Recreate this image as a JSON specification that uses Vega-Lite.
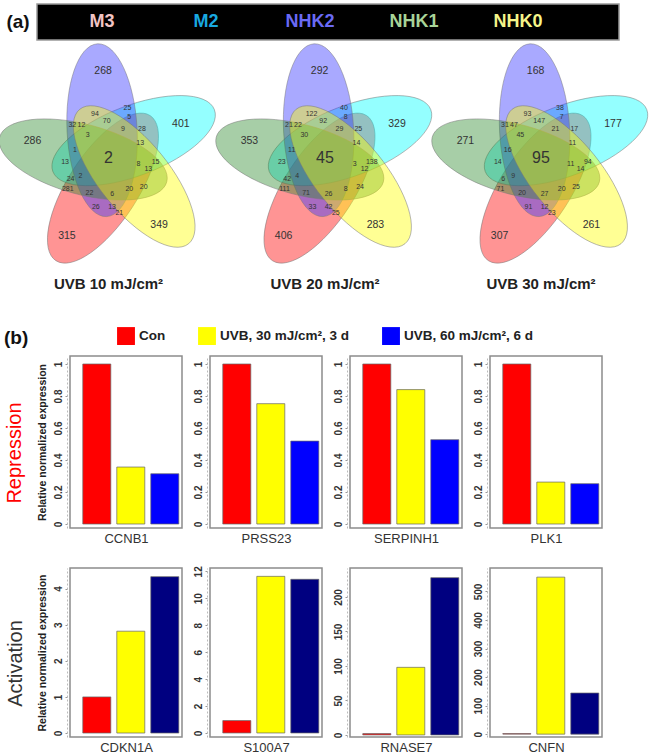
{
  "$schema": "https://vega.github.io/schema/vega-lite/v6.json",
  "padding": {"left": 0, "top": 3, "right": 0, "bottom": 0},
  "background": "white",
  "config": {
    "font": "Liberation Sans",
    "view": {"stroke": null},
    "axisX": {"labels": false, "ticks": false, "domain": false, "grid": false, "titleFontSize": 13, "titleFontWeight": "normal", "titleColor": "#333", "titlePadding": 4},
    "axisY": {"format": "~r", "labelAngle": -90, "labelFontSize": 10, "labelFontWeight": "bold", "labelColor": "#333", "labelPadding": 2, "tickSize": 2, "tickColor": "#999", "domainDash": [2, 2], "domainColor": "#bbb", "offset": 3, "grid": false, "titleFontSize": 10.5, "titleFontWeight": "bold", "titleColor": "#222", "titlePadding": 6}
  },
  "datasets": {
    "sets": [{"set": "M3"}, {"set": "M2"}, {"set": "NHK2"}, {"set": "NHK1"}, {"set": "NHK0"}],
    "ellipses": [
      {"set": "M3", "cx": -6.1, "cy": -29.6, "rot": 213},
      {"set": "M2", "cx": 27.8, "cy": 18.7, "rot": 69},
      {"set": "NHK2", "cx": -7.1, "cy": 29.3, "rot": 357},
      {"set": "NHK1", "cx": -28, "cy": -0.5, "rot": 285},
      {"set": "NHK0", "cx": 28.4, "cy": -17.8, "rot": 141}
    ],
    "regions": [
      {"region": 1, "lx": -6, "ly": 90, "type": "unique", "v10": 268, "v20": 292, "v30": 168},
      {"region": 2, "lx": 80, "ly": 36, "type": "unique", "v10": 401, "v20": 329, "v30": 177},
      {"region": 3, "lx": -84, "ly": 18, "type": "unique", "v10": 286, "v20": 353, "v30": 271},
      {"region": 4, "lx": -46, "ly": -78, "type": "unique", "v10": 315, "v20": 406, "v30": 307},
      {"region": 5, "lx": 56, "ly": -67, "type": "unique", "v10": 349, "v20": 283, "v30": 261},
      {"region": 6, "lx": 0, "ly": 1, "type": "all", "v10": 2, "v20": 45, "v30": 95},
      {"region": 7, "lx": -15, "ly": 46, "type": "shared", "v10": 94, "v20": 122, "v30": 93},
      {"region": 8, "lx": -2, "ly": 39, "type": "shared", "v10": 70, "v20": 92, "v30": 147},
      {"region": 9, "lx": 21, "ly": 52, "type": "shared", "v10": 25, "v20": 40, "v30": 38},
      {"region": 10, "lx": 23, "ly": 43, "type": "shared", "v10": 5, "v20": 8, "v30": 7},
      {"region": 11, "lx": 16, "ly": 31, "type": "shared", "v10": 9, "v20": 29, "v30": 21},
      {"region": 12, "lx": 37, "ly": 31, "type": "shared", "v10": 28, "v20": 25, "v30": 17},
      {"region": 13, "lx": -40, "ly": 35, "type": "shared", "v10": 32, "v20": 21, "v30": 31},
      {"region": 14, "lx": -30, "ly": 35, "type": "shared", "v10": 12, "v20": 22, "v30": 47},
      {"region": 15, "lx": -23, "ly": 24, "type": "shared", "v10": 3, "v20": 30, "v30": 45},
      {"region": 16, "lx": 35, "ly": 16, "type": "shared", "v10": 13, "v20": 14, "v30": 11},
      {"region": 17, "lx": -37, "ly": 9, "type": "shared", "v10": 1, "v20": 11, "v30": 16},
      {"region": 18, "lx": -48, "ly": -3, "type": "shared", "v10": 13, "v20": 23, "v30": 14},
      {"region": 19, "lx": 33, "ly": -5, "type": "shared", "v10": 8, "v20": 3, "v30": 11},
      {"region": 20, "lx": 52, "ly": -3, "type": "shared", "v10": 15, "v20": 138, "v30": 94},
      {"region": 21, "lx": 44, "ly": -10, "type": "shared", "v10": 13, "v20": 12, "v30": 14},
      {"region": 22, "lx": -42, "ly": -20, "type": "shared", "v10": 24, "v20": 42, "v30": 6},
      {"region": 23, "lx": -31, "ly": -17, "type": "shared", "v10": 2, "v20": 4, "v30": 9},
      {"region": 24, "lx": -45, "ly": -30, "type": "shared", "v10": 281, "v20": 111, "v30": 71},
      {"region": 25, "lx": 39, "ly": -28, "type": "shared", "v10": 20, "v20": 24, "v30": 25},
      {"region": 26, "lx": 23, "ly": -31, "type": "shared", "v10": 20, "v20": 8, "v30": 20},
      {"region": 27, "lx": -21, "ly": -35, "type": "shared", "v10": 22, "v20": 71, "v30": 20},
      {"region": 28, "lx": 4, "ly": -36, "type": "shared", "v10": 6, "v20": 26, "v30": 27},
      {"region": 29, "lx": -14, "ly": -49, "type": "shared", "v10": 26, "v20": 33, "v30": 91},
      {"region": 30, "lx": 4, "ly": -49, "type": "shared", "v10": 13, "v20": 42, "v30": 12},
      {"region": 31, "lx": 12, "ly": -55, "type": "shared", "v10": 21, "v20": 25, "v30": 23}
    ],
    "conds": [
      {"cond": "Con", "label": "Con"},
      {"cond": "UVB30", "label": "UVB, 30 mJ/cm², 3 d"},
      {"cond": "UVB60", "label": "UVB, 60 mJ/cm², 6 d"}
    ],
    "bars": [
      {"gene": "CCNB1", "cond": "Con", "value": 1}, {"gene": "CCNB1", "cond": "UVB30", "value": 0.356}, {"gene": "CCNB1", "cond": "UVB60", "value": 0.314},
      {"gene": "PRSS23", "cond": "Con", "value": 1}, {"gene": "PRSS23", "cond": "UVB30", "value": 0.752}, {"gene": "PRSS23", "cond": "UVB60", "value": 0.518},
      {"gene": "SERPINH1", "cond": "Con", "value": 1}, {"gene": "SERPINH1", "cond": "UVB30", "value": 0.84}, {"gene": "SERPINH1", "cond": "UVB60", "value": 0.527},
      {"gene": "PLK1", "cond": "Con", "value": 1}, {"gene": "PLK1", "cond": "UVB30", "value": 0.262}, {"gene": "PLK1", "cond": "UVB60", "value": 0.252},
      {"gene": "CDKN1A", "cond": "Con", "value": 1}, {"gene": "CDKN1A", "cond": "UVB30", "value": 2.82}, {"gene": "CDKN1A", "cond": "UVB60", "value": 4.33},
      {"gene": "S100A7", "cond": "Con", "value": 0.92}, {"gene": "S100A7", "cond": "UVB30", "value": 11.63}, {"gene": "S100A7", "cond": "UVB60", "value": 11.41},
      {"gene": "RNASE7", "cond": "Con", "value": 2}, {"gene": "RNASE7", "cond": "UVB30", "value": 98}, {"gene": "RNASE7", "cond": "UVB60", "value": 228},
      {"gene": "CNFN", "cond": "Con", "value": 2}, {"gene": "CNFN", "cond": "UVB30", "value": 550}, {"gene": "CNFN", "cond": "UVB60", "value": 144}
    ]
  },
  "spacing": 0,
  "resolve": {"scale": {"x": "independent", "y": "independent", "color": "independent", "fill": "independent"}},
  "vconcat": [
    {
      "spacing": 0,
      "resolve": {"scale": {"x": "independent", "y": "independent", "color": "independent"}},
      "hconcat": [
        {
          "width": 36, "height": 36,
          "data": {"values": [{"label": "(a)"}]},
          "mark": {"type": "text", "fontSize": 19, "fontWeight": "bold", "color": "#111"},
          "encoding": {"text": {"field": "label"}}
        },
        {
          "width": 582, "height": 36,
          "view": {"fill": "#000000", "stroke": "#999999", "strokeWidth": 1.5},
          "data": {"name": "sets"},
          "mark": {"type": "text", "fontSize": 18, "fontWeight": "bold"},
          "encoding": {
            "x": {"field": "set", "type": "nominal", "scale": {"type": "point", "domain": ["M3", "M2", "NHK2", "NHK1", "NHK0"], "range": [65, 481], "padding": 0}, "axis": null},
            "text": {"field": "set"},
            "color": {"field": "set", "type": "nominal", "scale": {"domain": ["M3", "M2", "NHK2", "NHK1", "NHK0"], "range": ["#f2c4c4", "#19a9e0", "#6a6af5", "#a8d498", "#f5f58a"]}, "legend": null}
          }
        }
      ]
    },
    {
      "spacing": 0,
      "bounds": "flush",
      "resolve": {"scale": {"x": "independent", "y": "independent", "fill": "independent"}},
      "hconcat": [
        {
          "width": 217, "height": 236,
          "title": {"text": "UVB 10 mJ/cm²", "orient": "bottom", "offset": 0, "fontSize": 15, "fontWeight": "bold", "color": "#222"},
          "layer": [
            {
              "data": {"name": "ellipses"},
              "mark": {"type": "point", "clip": true, "shape": "M -0.405 0 A 0.405 1 0 1 1 0.405 0 A 0.405 1 0 1 1 -0.405 0 Z", "size": 29929, "filled": true, "fillOpacity": 0.42, "stroke": "#777", "strokeWidth": 0.8, "strokeOpacity": 0.6},
              "encoding": {
                "x": {"field": "cx", "type": "quantitative", "scale": {"domain": [-110, 107]}, "axis": null},
                "y": {"field": "cy", "type": "quantitative", "scale": {"domain": [-120, 116]}, "axis": null},
                "angle": {"field": "rot", "type": "quantitative", "scale": null},
                "fill": {"field": "set", "type": "nominal", "scale": {"domain": ["M3", "M2", "NHK2", "NHK1", "NHK0"], "range": ["#ff0000", "#00ffff", "#3333ff", "#2e8b2e", "#ffff00"]}, "legend": null}
              }
            },
            {
              "data": {"name": "regions"},
              "transform": [{"filter": "datum.type == 'unique'"}],
              "mark": {"type": "text", "color": "#333", "fontSize": 10.5},
              "encoding": {
                "x": {"field": "lx", "type": "quantitative", "axis": null},
                "y": {"field": "ly", "type": "quantitative", "axis": null},
                "text": {"field": "v10", "type": "quantitative"}
              }
            },
            {
              "data": {"name": "regions"},
              "transform": [{"filter": "datum.type == 'shared'"}],
              "mark": {"type": "text", "color": "#333", "fontSize": 7},
              "encoding": {
                "x": {"field": "lx", "type": "quantitative", "axis": null},
                "y": {"field": "ly", "type": "quantitative", "axis": null},
                "text": {"field": "v10", "type": "quantitative"}
              }
            },
            {
              "data": {"name": "regions"},
              "transform": [{"filter": "datum.type == 'all'"}],
              "mark": {"type": "text", "color": "#333", "fontSize": 16},
              "encoding": {
                "x": {"field": "lx", "type": "quantitative", "axis": null},
                "y": {"field": "ly", "type": "quantitative", "axis": null},
                "text": {"field": "v10", "type": "quantitative"}
              }
            }
          ]
        },
        {
          "width": 216, "height": 236,
          "title": {"text": "UVB 20 mJ/cm²", "orient": "bottom", "offset": 0, "fontSize": 15, "fontWeight": "bold", "color": "#222"},
          "layer": [
            {
              "data": {"name": "ellipses"},
              "mark": {"type": "point", "shape": "M -0.405 0 A 0.405 1 0 1 1 0.405 0 A 0.405 1 0 1 1 -0.405 0 Z", "size": 29929, "filled": true, "fillOpacity": 0.42, "stroke": "#777", "strokeWidth": 0.8, "strokeOpacity": 0.6},
              "encoding": {
                "x": {"field": "cx", "type": "quantitative", "scale": {"domain": [-110, 106]}, "axis": null},
                "y": {"field": "cy", "type": "quantitative", "scale": {"domain": [-120, 116]}, "axis": null},
                "angle": {"field": "rot", "type": "quantitative", "scale": null},
                "fill": {"field": "set", "type": "nominal", "scale": {"domain": ["M3", "M2", "NHK2", "NHK1", "NHK0"], "range": ["#ff0000", "#00ffff", "#3333ff", "#2e8b2e", "#ffff00"]}, "legend": null}
              }
            },
            {
              "data": {"name": "regions"},
              "transform": [{"filter": "datum.type == 'unique'"}],
              "mark": {"type": "text", "color": "#333", "fontSize": 10.5},
              "encoding": {
                "x": {"field": "lx", "type": "quantitative", "axis": null},
                "y": {"field": "ly", "type": "quantitative", "axis": null},
                "text": {"field": "v20", "type": "quantitative"}
              }
            },
            {
              "data": {"name": "regions"},
              "transform": [{"filter": "datum.type == 'shared'"}],
              "mark": {"type": "text", "color": "#333", "fontSize": 7},
              "encoding": {
                "x": {"field": "lx", "type": "quantitative", "axis": null},
                "y": {"field": "ly", "type": "quantitative", "axis": null},
                "text": {"field": "v20", "type": "quantitative"}
              }
            },
            {
              "data": {"name": "regions"},
              "transform": [{"filter": "datum.type == 'all'"}],
              "mark": {"type": "text", "color": "#333", "fontSize": 16},
              "encoding": {
                "x": {"field": "lx", "type": "quantitative", "axis": null},
                "y": {"field": "ly", "type": "quantitative", "axis": null},
                "text": {"field": "v20", "type": "quantitative"}
              }
            }
          ]
        },
        {
          "width": 216, "height": 236,
          "title": {"text": "UVB 30 mJ/cm²", "orient": "bottom", "offset": 0, "fontSize": 15, "fontWeight": "bold", "color": "#222"},
          "layer": [
            {
              "data": {"name": "ellipses"},
              "mark": {"type": "point", "shape": "M -0.405 0 A 0.405 1 0 1 1 0.405 0 A 0.405 1 0 1 1 -0.405 0 Z", "size": 29929, "filled": true, "fillOpacity": 0.42, "stroke": "#777", "strokeWidth": 0.8, "strokeOpacity": 0.6},
              "encoding": {
                "x": {"field": "cx", "type": "quantitative", "scale": {"domain": [-109, 107]}, "axis": null},
                "y": {"field": "cy", "type": "quantitative", "scale": {"domain": [-120, 116]}, "axis": null},
                "angle": {"field": "rot", "type": "quantitative", "scale": null},
                "fill": {"field": "set", "type": "nominal", "scale": {"domain": ["M3", "M2", "NHK2", "NHK1", "NHK0"], "range": ["#ff0000", "#00ffff", "#3333ff", "#2e8b2e", "#ffff00"]}, "legend": null}
              }
            },
            {
              "data": {"name": "regions"},
              "transform": [{"filter": "datum.type == 'unique'"}],
              "mark": {"type": "text", "color": "#333", "fontSize": 10.5},
              "encoding": {
                "x": {"field": "lx", "type": "quantitative", "axis": null},
                "y": {"field": "ly", "type": "quantitative", "axis": null},
                "text": {"field": "v30", "type": "quantitative"}
              }
            },
            {
              "data": {"name": "regions"},
              "transform": [{"filter": "datum.type == 'shared'"}],
              "mark": {"type": "text", "color": "#333", "fontSize": 7},
              "encoding": {
                "x": {"field": "lx", "type": "quantitative", "axis": null},
                "y": {"field": "ly", "type": "quantitative", "axis": null},
                "text": {"field": "v30", "type": "quantitative"}
              }
            },
            {
              "data": {"name": "regions"},
              "transform": [{"filter": "datum.type == 'all'"}],
              "mark": {"type": "text", "color": "#333", "fontSize": 16},
              "encoding": {
                "x": {"field": "lx", "type": "quantitative", "axis": null},
                "y": {"field": "ly", "type": "quantitative", "axis": null},
                "text": {"field": "v30", "type": "quantitative"}
              }
            }
          ]
        }
      ]
    },
    {
      "width": 651, "height": 63,
      "title": {"text": "(b)", "orient": "bottom", "anchor": "start", "offset": -26, "fontSize": 19, "fontWeight": "bold", "color": "#111", "dx": 4},
      "data": {"name": "conds"},
      "mark": {"type": "square", "size": 0},
      "encoding": {
        "color": {
          "field": "label", "type": "nominal",
          "scale": {"domain": ["Con", "UVB, 30 mJ/cm², 3 d", "UVB, 60 mJ/cm², 6 d"], "range": ["#ff0000", "#ffff00", "#0000ff"]},
          "legend": {"orient": "none", "legendX": 117, "legendY": 35, "direction": "horizontal", "title": null, "symbolType": "square", "symbolSize": 320, "symbolStrokeWidth": 0, "symbolOpacity": 1, "labelFontSize": 13.5, "labelFontWeight": "bold", "labelColor": "#222", "columnPadding": 32, "labelOffset": 4}
        }
      }
    },
    {
      "bounds": "flush",
      "columns": 5,
      "spacing": {"row": 40, "column": 28},
      "resolve": {"scale": {"x": "independent", "y": "independent", "color": "independent"}},
      "concat": [
        {
          "width": 42, "height": 172,
          "data": {"values": [{"t": "Repression"}]},
          "mark": {"type": "text", "angle": 270, "fontSize": 20, "color": "#ff0000", "dx": -11, "dy": -6},
          "encoding": {"text": {"field": "t"}}
        },
        {
          "width": 112, "height": 172,
          "view": {"stroke": "#8c8c8c", "strokeWidth": 1.5},
          "data": {"name": "bars"},
          "transform": [{"filter": "datum.gene == 'CCNB1'"}],
          "mark": {"type": "bar", "stroke": "#666", "strokeWidth": 0.7},
          "encoding": {
            "x": {"field": "cond", "type": "nominal", "sort": ["Con", "UVB30", "UVB60"], "scale": {"paddingInner": 0.176, "paddingOuter": 0.235, "align": 0.8}, "axis": {"title": "CCNB1"}},
            "y": {"field": "value", "type": "quantitative", "scale": {"domain": [-0.025, 1.05], "nice": false, "zero": false}, "axis": {"values": [0, 0.2, 0.4, 0.6, 0.8, 1], "title": "Relative normalized expression"}},
            "color": {"field": "cond", "type": "nominal", "scale": {"domain": ["Con", "UVB30", "UVB60"], "range": ["#ff0000", "#ffff00", "#0000ff"]}, "legend": null}
          }
        },
        {
          "width": 112, "height": 172,
          "view": {"stroke": "#8c8c8c", "strokeWidth": 1.5},
          "data": {"name": "bars"},
          "transform": [{"filter": "datum.gene == 'PRSS23'"}],
          "mark": {"type": "bar", "stroke": "#666", "strokeWidth": 0.7},
          "encoding": {
            "x": {"field": "cond", "type": "nominal", "sort": ["Con", "UVB30", "UVB60"], "scale": {"paddingInner": 0.176, "paddingOuter": 0.235, "align": 0.8}, "axis": {"title": "PRSS23"}},
            "y": {"field": "value", "type": "quantitative", "scale": {"domain": [-0.025, 1.05], "nice": false, "zero": false}, "axis": {"values": [0, 0.2, 0.4, 0.6, 0.8, 1], "title": null}},
            "color": {"field": "cond", "type": "nominal", "scale": {"domain": ["Con", "UVB30", "UVB60"], "range": ["#ff0000", "#ffff00", "#0000ff"]}, "legend": null}
          }
        },
        {
          "width": 112, "height": 172,
          "view": {"stroke": "#8c8c8c", "strokeWidth": 1.5},
          "data": {"name": "bars"},
          "transform": [{"filter": "datum.gene == 'SERPINH1'"}],
          "mark": {"type": "bar", "stroke": "#666", "strokeWidth": 0.7},
          "encoding": {
            "x": {"field": "cond", "type": "nominal", "sort": ["Con", "UVB30", "UVB60"], "scale": {"paddingInner": 0.176, "paddingOuter": 0.235, "align": 0.8}, "axis": {"title": "SERPINH1"}},
            "y": {"field": "value", "type": "quantitative", "scale": {"domain": [-0.025, 1.05], "nice": false, "zero": false}, "axis": {"values": [0, 0.2, 0.4, 0.6, 0.8, 1], "title": null}},
            "color": {"field": "cond", "type": "nominal", "scale": {"domain": ["Con", "UVB30", "UVB60"], "range": ["#ff0000", "#ffff00", "#0000ff"]}, "legend": null}
          }
        },
        {
          "width": 112, "height": 172,
          "view": {"stroke": "#8c8c8c", "strokeWidth": 1.5},
          "data": {"name": "bars"},
          "transform": [{"filter": "datum.gene == 'PLK1'"}],
          "mark": {"type": "bar", "stroke": "#666", "strokeWidth": 0.7},
          "encoding": {
            "x": {"field": "cond", "type": "nominal", "sort": ["Con", "UVB30", "UVB60"], "scale": {"paddingInner": 0.176, "paddingOuter": 0.235, "align": 0.8}, "axis": {"title": "PLK1"}},
            "y": {"field": "value", "type": "quantitative", "scale": {"domain": [-0.025, 1.05], "nice": false, "zero": false}, "axis": {"values": [0, 0.2, 0.4, 0.6, 0.8, 1], "title": null}},
            "color": {"field": "cond", "type": "nominal", "scale": {"domain": ["Con", "UVB30", "UVB60"], "range": ["#ff0000", "#ffff00", "#0000ff"]}, "legend": null}
          }
        },
        {
          "width": 42, "height": 169,
          "data": {"values": [{"t": "Activation"}]},
          "mark": {"type": "text", "angle": 270, "fontSize": 20, "color": "#333", "dx": -11, "dy": -5},
          "encoding": {"text": {"field": "t"}}
        },
        {
          "width": 112, "height": 169,
          "view": {"stroke": "#8c8c8c", "strokeWidth": 1.5},
          "data": {"name": "bars"},
          "transform": [{"filter": "datum.gene == 'CDKN1A'"}],
          "mark": {"type": "bar", "stroke": "#666", "strokeWidth": 0.7},
          "encoding": {
            "x": {"field": "cond", "type": "nominal", "sort": ["Con", "UVB30", "UVB60"], "scale": {"paddingInner": 0.176, "paddingOuter": 0.235, "align": 0.8}, "axis": {"title": "CDKN1A"}},
            "y": {"field": "value", "type": "quantitative", "scale": {"domain": [-0.11, 4.57], "nice": false, "zero": false}, "axis": {"values": [0, 1, 2, 3, 4], "title": "Relative normalized expression"}},
            "color": {"field": "cond", "type": "nominal", "scale": {"domain": ["Con", "UVB30", "UVB60"], "range": ["#ff0000", "#ffff00", "#000080"]}, "legend": null}
          }
        },
        {
          "width": 112, "height": 169,
          "view": {"stroke": "#8c8c8c", "strokeWidth": 1.5},
          "data": {"name": "bars"},
          "transform": [{"filter": "datum.gene == 'S100A7'"}],
          "mark": {"type": "bar", "stroke": "#666", "strokeWidth": 0.7},
          "encoding": {
            "x": {"field": "cond", "type": "nominal", "sort": ["Con", "UVB30", "UVB60"], "scale": {"paddingInner": 0.176, "paddingOuter": 0.235, "align": 0.8}, "axis": {"title": "S100A7"}},
            "y": {"field": "value", "type": "quantitative", "scale": {"domain": [-0.3, 12.25], "nice": false, "zero": false}, "axis": {"values": [0, 2, 4, 6, 8, 10, 12], "title": null}},
            "color": {"field": "cond", "type": "nominal", "scale": {"domain": ["Con", "UVB30", "UVB60"], "range": ["#ff0000", "#ffff00", "#000080"]}, "legend": null}
          }
        },
        {
          "width": 112, "height": 169,
          "view": {"stroke": "#8c8c8c", "strokeWidth": 1.5},
          "data": {"name": "bars"},
          "transform": [{"filter": "datum.gene == 'RNASE7'"}],
          "mark": {"type": "bar", "stroke": "#666", "strokeWidth": 0.7},
          "encoding": {
            "x": {"field": "cond", "type": "nominal", "sort": ["Con", "UVB30", "UVB60"], "scale": {"paddingInner": 0.176, "paddingOuter": 0.235, "align": 0.8}, "axis": {"title": "RNASE7"}},
            "y": {"field": "value", "type": "quantitative", "scale": {"domain": [-3, 242], "nice": false, "zero": false}, "axis": {"values": [0, 50, 100, 150, 200], "title": null}},
            "color": {"field": "cond", "type": "nominal", "scale": {"domain": ["Con", "UVB30", "UVB60"], "range": ["#ff0000", "#ffff00", "#000080"]}, "legend": null}
          }
        },
        {
          "width": 112, "height": 169,
          "view": {"stroke": "#8c8c8c", "strokeWidth": 1.5},
          "data": {"name": "bars"},
          "transform": [{"filter": "datum.gene == 'CNFN'"}],
          "mark": {"type": "bar", "stroke": "#666", "strokeWidth": 0.7},
          "encoding": {
            "x": {"field": "cond", "type": "nominal", "sort": ["Con", "UVB30", "UVB60"], "scale": {"paddingInner": 0.176, "paddingOuter": 0.235, "align": 0.8}, "axis": {"title": "CNFN"}},
            "y": {"field": "value", "type": "quantitative", "scale": {"domain": [-10, 582], "nice": false, "zero": false}, "axis": {"values": [0, 100, 200, 300, 400, 500], "title": null}},
            "color": {"field": "cond", "type": "nominal", "scale": {"domain": ["Con", "UVB30", "UVB60"], "range": ["#ff0000", "#ffff00", "#000080"]}, "legend": null}
          }
        }
      ]
    }
  ]
}
